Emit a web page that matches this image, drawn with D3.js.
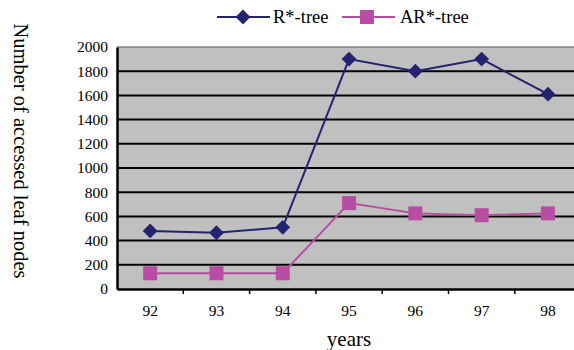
<!DOCTYPE html>
<html lang="en">
<head>
    <meta charset="UTF-8">
    <title>R*-tree vs AR*-tree</title>
    <script src="https://d3js.org/d3.v7.min.js"></script>
    <style>
        body { margin: 0; background: #fff; }
        svg { display: block; }
        svg text { font-family: "Liberation Serif", "Times New Roman", serif; fill: #000; }
    </style>
</head>
<body>
    <svg id="chart" width="574" height="350"></svg>
    <script>
        // data
        const years = ["92", "93", "94", "95", "96", "97", "98"];
        const rstar = [480, 465, 510, 1900, 1800, 1900, 1610];
        const arstar = [130, 130, 130, 710, 625, 610, 625];
        const yTicks = [0, 200, 400, 600, 800, 1000, 1200, 1400, 1600, 1800, 2000];

        const svg = d3.select("#chart");
        const plotLeft = 117, plotTop = 47, plotBottom = 289;
        const bandW = 66.3;
        const plotRight = plotLeft + bandW * years.length;

        const x = d3.scaleBand().domain(years).range([plotLeft, plotRight]);
        const y = d3.scaleLinear().domain([0, 2000]).range([plotBottom, plotTop]);

        // plot background
        svg.append("rect")
            .attr("x", plotLeft).attr("y", plotTop)
            .attr("width", plotRight - plotLeft).attr("height", plotBottom - plotTop)
            .attr("fill", "#c0c0c0");
        svg.append("line")
            .attr("x1", plotLeft).attr("x2", plotRight)
            .attr("y1", plotTop).attr("y2", plotTop)
            .attr("stroke", "#808080").attr("stroke-width", 1.5);

        // gridlines
        svg.selectAll("line.grid")
            .data(yTicks.slice(1, -1))
            .enter().append("line")
            .attr("class", "grid")
            .attr("x1", plotLeft).attr("x2", plotRight)
            .attr("y1", d => y(d)).attr("y2", d => y(d))
            .attr("stroke", "#000").attr("stroke-width", 2);

        // y axis
        const yAxis = svg.append("g")
            .attr("transform", `translate(${plotLeft},0)`)
            .call(d3.axisLeft(y).tickValues(yTicks).tickFormat(d3.format("d")).tickSize(0).tickPadding(9));
        yAxis.select(".domain").attr("stroke", "#000").attr("stroke-width", 2.5);
        yAxis.selectAll("text").attr("font-size", 15.5);

        // x axis
        const xAxis = svg.append("g")
            .attr("transform", `translate(0,${plotBottom})`)
            .call(d3.axisBottom(x).tickSize(0).tickPadding(16));
        xAxis.select(".domain").attr("stroke", "#000").attr("stroke-width", 2.5);
        xAxis.selectAll("text").attr("font-size", 15.5);
        svg.selectAll("line.xtick")
            .data(years.slice(1))
            .enter().append("line")
            .attr("class", "xtick")
            .attr("x1", d => x(d)).attr("x2", d => x(d))
            .attr("y1", plotBottom).attr("y2", plotBottom + 5)
            .attr("stroke", "#000").attr("stroke-width", 1.5);

        const cx = d => x(d) + x.bandwidth() / 2;
        const navy = "#23236f", pink = "#b84ea3";

        const line = d3.line()
            .x((d, i) => cx(years[i]))
            .y(d => y(d));

        svg.append("path").datum(arstar)
            .attr("d", line).attr("fill", "none")
            .attr("stroke", pink).attr("stroke-width", 2);
        svg.append("path").datum(rstar)
            .attr("d", line).attr("fill", "none")
            .attr("stroke", navy).attr("stroke-width", 2);

        const diamond = d3.symbol().type(d3.symbolDiamond2).size(140);

        svg.selectAll("rect.ar")
            .data(arstar)
            .enter().append("rect")
            .attr("class", "ar")
            .attr("x", (d, i) => cx(years[i]) - 7)
            .attr("y", d => y(d) - 7)
            .attr("width", 14).attr("height", 14)
            .attr("fill", pink);

        svg.selectAll("path.r")
            .data(rstar)
            .enter().append("path")
            .attr("class", "r")
            .attr("transform", (d, i) => `translate(${cx(years[i])},${y(d)})`)
            .attr("d", diamond)
            .attr("fill", navy);

        // legend
        const legend = svg.append("g").attr("transform", "translate(0,17)");
        legend.append("line").attr("x1", 217).attr("x2", 270).attr("y1", 0).attr("y2", 0)
            .attr("stroke", navy).attr("stroke-width", 2);
        legend.append("path").attr("transform", "translate(243,0)").attr("d", diamond).attr("fill", navy);
        legend.append("text").attr("x", 273).attr("y", 6).attr("font-size", 18.5).text("R*-tree");
        legend.append("line").attr("x1", 342).attr("x2", 395).attr("y1", 0).attr("y2", 0)
            .attr("stroke", pink).attr("stroke-width", 2);
        legend.append("rect").attr("x", 360).attr("y", -7).attr("width", 14).attr("height", 14).attr("fill", pink);
        legend.append("text").attr("x", 400).attr("y", 6).attr("font-size", 18.5).text("AR*-tree");

        // axis titles
        svg.append("text")
            .attr("transform", "translate(14,151) rotate(90)")
            .attr("text-anchor", "middle")
            .attr("font-size", 20.5)
            .text("Number of accessed leaf nodes");
        svg.append("text")
            .attr("x", 349).attr("y", 346)
            .attr("text-anchor", "middle")
            .attr("font-size", 21)
            .text("years");
    </script>
</body>
</html>
